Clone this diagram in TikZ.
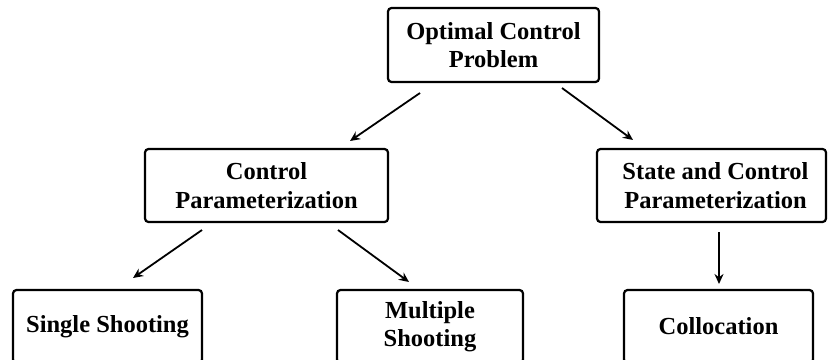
\documentclass[tikz,border=0pt]{standalone}
\usepackage{fontspec}
\setmainfont{Liberation Serif}
\usetikzlibrary{arrows.meta}
\tikzset{
  box/.style={draw, line width=2.2pt, rounded corners=3.5pt, align=center,
    font=\fontsize{24.5}{28.5}\selectfont\bfseries, inner sep=0pt},
  conn/.style={line width=1.8pt, -{Stealth[length=10pt,width=9pt]}}
}
\begin{document}
\begin{tikzpicture}[x=1pt,y=-1pt]
\useasboundingbox (0,0) rectangle (829,359);
\clip (0,0) rectangle (829,359);
\node[box, minimum width=211pt, minimum height=74pt] (ocp) at (493.5,45) {Optimal Control\\Problem};
\node[box, minimum width=243pt, minimum height=73pt] (cp) at (266.5,185.5) {Control\\Parameterization};
\node[box, minimum width=229pt, minimum height=73pt] (scp) at (711.5,185.5) {\hspace*{8pt}State and Control\\\hspace*{8pt}Parameterization};
\node[box, minimum width=189pt, minimum height=73pt] (ss) at (107.5,326.5) {Single Shooting};
\node[box, minimum width=186pt, minimum height=73pt] (ms) at (430,326.5) {Multiple\\Shooting};
\node[box, minimum width=189pt, minimum height=73pt] (col) at (718.5,326.5) {Collocation};
\coordinate (a1s) at (420,93);  \coordinate (a1e) at (350,141);
\coordinate (a2s) at (562,88);  \coordinate (a2e) at (633,140);
\coordinate (a3s) at (202,230); \coordinate (a3e) at (133,278);
\coordinate (a4s) at (338,230); \coordinate (a4e) at (409,282);
\coordinate (a5s) at (719,232); \coordinate (a5e) at (719,284);
\draw[conn] (a1s) -- (a1e);
\draw[conn] (a2s) -- (a2e);
\draw[conn] (a3s) -- (a3e);
\draw[conn] (a4s) -- (a4e);
\draw[conn] (a5s) -- (a5e);
\end{tikzpicture}
\end{document}
